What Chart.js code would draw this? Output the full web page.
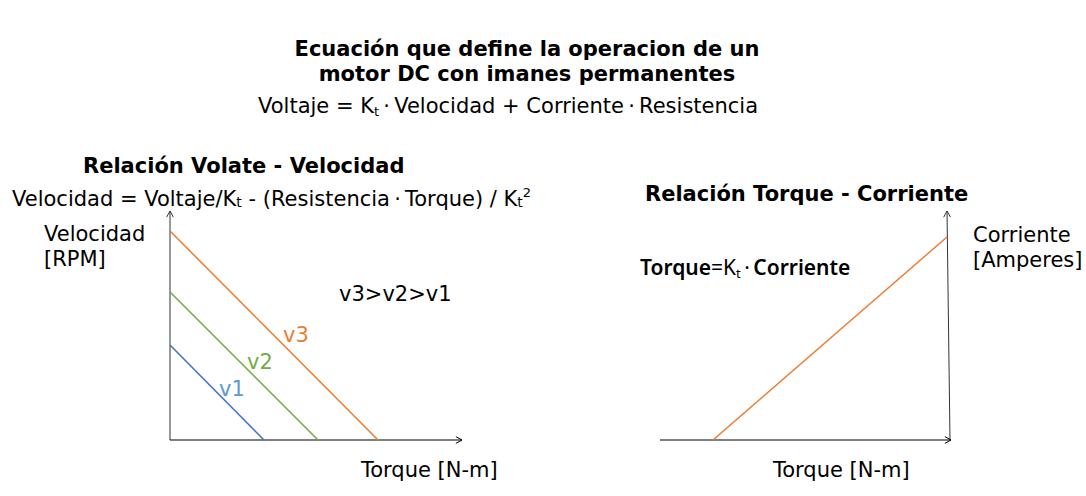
<!DOCTYPE html>
<html>
<head>
<meta charset="utf-8">
<script src="https://cdn.jsdelivr.net/npm/chart.js@4.4.1/dist/chart.umd.min.js"></script>
<style>
  body { margin: 0; background: #fff; }
  #page { position: relative; width: 1086px; height: 496px; overflow: hidden; font-family: "DejaVu Sans", sans-serif; color: #000; }
  .t { position: absolute; white-space: nowrap; font-size: 21px; line-height: 21px; }
  .b { font-weight: bold; }
  .c { text-align: center; }
  sub { font-size: 13px; vertical-align: -3px; line-height: 0; }
  sup { font-size: 13px; vertical-align: 9px; line-height: 0; }
  .box { position: absolute; }
  .nt { font-family: "Noto Sans", sans-serif; font-size: 21px; }
</style>
</head>
<body>
<div id="page">
  <div class="t b c" style="left:0;width:1054px;top:39px">Ecuación que define la operacion de un</div>
  <div class="t b c" style="left:0;width:1054px;top:64px">motor DC con imanes permanentes</div>
  <div class="t" style="left:258px;top:96px">Voltaje = K<sub>t</sub>&thinsp;·&thinsp;Velocidad + Corriente&thinsp;·&thinsp;Resistencia</div>

  <div class="t b" style="left:83px;top:156px">Relación Volate - Velocidad</div>
  <div class="t" style="left:12px;top:189px">Velocidad = Voltaje/K<sub style="font-size:14px;vertical-align:-1px">t</sub> - (Resistencia&thinsp;·&thinsp;Torque) / K<sub style="font-size:14px;vertical-align:-1px">t</sub><sup>2</sup></div>
  <div class="t" style="left:44px;top:224px">Velocidad</div>
  <div class="t" style="left:44px;top:249px">[RPM]</div>
  <div class="t" style="left:339px;top:284px">v3&gt;v2&gt;v1</div>
  <div class="t" style="left:283px;top:325px;color:#ED7D31">v3</div>
  <div class="t" style="left:247px;top:352px;color:#70AD47">v2</div>
  <div class="t" style="left:219px;top:379px;color:#5B9BD5">v1</div>
  <div class="t" style="left:361px;top:460px">Torque [N-m]</div>

  <div class="t b" style="left:645px;top:184px">Relación Torque - Corriente</div>
  <div class="t nt" style="left:640px;top:257px"><span style="font-weight:600">Torque</span>=K<sub>t</sub>&thinsp;·&thinsp;<span style="font-weight:600">Corriente</span></div>
  <div class="t" style="left:973px;top:225px">Corriente</div>
  <div class="t" style="left:973px;top:250px">[Amperes]</div>
  <div class="t" style="left:773px;top:460px">Torque [N-m]</div>

  <div class="box" style="left:160px;top:201px;width:312px;height:249px"><canvas id="leftChart"></canvas></div>
  <div class="box" style="left:650px;top:201px;width:311px;height:249px"><canvas id="rightChart"></canvas></div>
</div>
<script>
// Velocidad vs Torque (left panel), units
const speedNames = ['v1', 'v2', 'v3'];
const noLoadSpeed = [95, 148, 209];
const stallTorque = [94, 148, 208];
const speedColors = ['#4472C4', '#70AD47', '#ED7D31'];
const leftTorqueMax = 292;
const leftSpeedMax = 229;

// Corriente vs Torque (right panel)
const rightTorque = [53, 287];
const rightCurrent = [0, 203];
const rightTorqueMax = 291;
const rightCurrentMax = 229;
const rightAxisX = [290, 287]; // vertical axis leans a little

const arrowPlugin = {
  id: 'arrows',
  afterDatasetsDraw(chart) {
    const ctx = chart.ctx;
    chart.data.datasets.forEach((ds, i) => {
      if (!ds.arrow) return;
      const pts = chart.getDatasetMeta(i).data;
      const a = pts[pts.length - 2], b = pts[pts.length - 1];
      const ang = Math.atan2(b.y - a.y, b.x - a.x);
      ctx.save();
      ctx.strokeStyle = ds.borderColor;
      ctx.lineWidth = 1;
      ctx.beginPath();
      ctx.moveTo(b.x - 7 * Math.cos(ang - 0.5), b.y - 7 * Math.sin(ang - 0.5));
      ctx.lineTo(b.x, b.y);
      ctx.lineTo(b.x - 7 * Math.cos(ang + 0.5), b.y - 7 * Math.sin(ang + 0.5));
      ctx.stroke();
      ctx.restore();
    });
  }
};

function baseOptions(xMax, yMax) {
  return {
    responsive: true,
    maintainAspectRatio: false,
    animation: false,
    events: [],
    layout: { padding: 10 },
    plugins: { legend: { display: false }, tooltip: { enabled: false } },
    scales: {
      x: { type: 'linear', min: 0, max: xMax, display: false },
      y: { type: 'linear', min: 0, max: yMax, display: false }
    }
  };
}

function line(data, color, width, arrow) {
  return { data, borderColor: color, borderWidth: width, showLine: true, pointRadius: 0, clip: false, arrow };
}

const leftSets = speedNames.map((n, i) =>
  line([{ x: 0, y: noLoadSpeed[i] }, { x: stallTorque[i], y: 0 }], speedColors[i], 1.6, false));
leftSets.push(line([{ x: 0, y: 0 }, { x: leftTorqueMax, y: 0 }], '#000', 1, true));
leftSets.push(line([{ x: 0, y: 0 }, { x: 0, y: leftSpeedMax }], '#333', 1, true));

new Chart(document.getElementById('leftChart'), {
  type: 'scatter',
  data: { datasets: leftSets },
  options: baseOptions(leftTorqueMax, leftSpeedMax),
  plugins: [arrowPlugin]
});

const rightSets = [
  line([{ x: rightTorque[0], y: rightCurrent[0] }, { x: rightTorque[1], y: rightCurrent[1] }], '#ED7D31', 1.6, false),
  line([{ x: 0, y: 0 }, { x: rightTorqueMax, y: 0 }], '#000', 1, true),
  line([{ x: rightAxisX[0], y: 0 }, { x: rightAxisX[1], y: rightCurrentMax }], '#333', 1, true)
];

new Chart(document.getElementById('rightChart'), {
  type: 'scatter',
  data: { datasets: rightSets },
  options: baseOptions(rightTorqueMax, rightCurrentMax),
  plugins: [arrowPlugin]
});
</script>
</body>
</html>
